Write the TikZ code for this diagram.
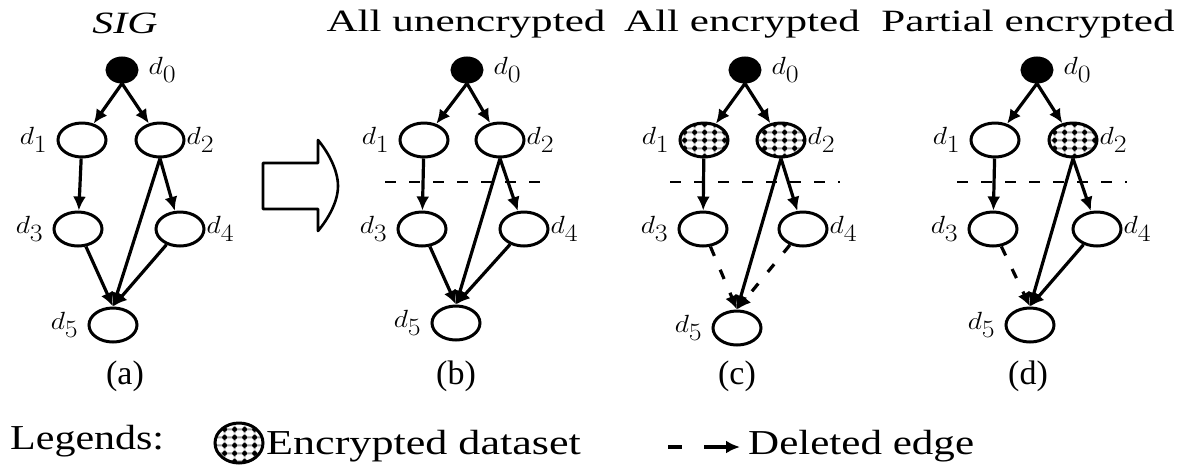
\documentclass[tikz,border=0pt]{standalone}
\usepackage{fontspec}
\setmainfont{Liberation Serif}
\usepackage{graphicx}
\usetikzlibrary{shapes,arrows.meta,patterns.meta}

\newcommand{\sx}[2][1.12]{\scalebox{#1}[1]{#2}}

\tikzdeclarepattern{
  name=encmesh,
  type=colored,
  bottom left={(0pt,0pt)},
  top right={(10pt,8pt)},
  tile size={(10pt,8pt)},
  code={
    \fill[gray!75] (0pt,2.8pt) rectangle (10pt,5.2pt);
    \fill[gray!75] (3.8pt,0pt) rectangle (6.2pt,8pt);
    \fill[black] (5pt,4pt) circle (2.7pt);
  }
}

\tikzset{
  data/.style={shape=ellipse,draw,line width=3pt,fill=white,minimum width=48pt,minimum height=34pt,inner sep=0pt,label distance=4pt},
  root/.style={data,fill=black,minimum width=30pt,minimum height=24pt},
  enc/.style={data,pattern=encmesh},
  dlbl/.style={font=\fontsize{34}{36}\selectfont,inner sep=1pt},
  ldl/.style={dlbl,xshift=-8pt},
  rdl/.style={dlbl},
  edge/.style={line width=3.2pt,-{Latex[length=14pt,width=13pt]}},
  deleted/.style={edge,dash pattern=on 10pt off 15pt},
  cut/.style={line width=2.6pt,dash pattern=on 11pt off 13pt},
  title/.style={font=\fontsize{31}{34}\selectfont,anchor=base,inner sep=0pt},
  subcap/.style={font=\fontsize{34}{36}\selectfont,anchor=base,inner sep=0pt},
  legtxt/.style={font=\fontsize{35}{38}\selectfont,anchor=base west,inner sep=0pt}
}

\begin{document}
\begin{tikzpicture}[x=1pt,y=-1pt]
  \useasboundingbox (0,0) rectangle (1183,464);

  % (a) the SIG
  \begin{scope}[shift={(122,70)},name prefix=a-]
    \node[title] (tit) at (3,-37) {\sx[1.35]{\itshape SIG}};
    \node[root,label={[rdl,xshift=9pt]right:\sx{$d_0$}}] (d0) at (0,0) {};
    \node[data,label={[ldl]left:\sx{$d_1$}}] (d1) at (-40,70) {};
    \node[data,label={[rdl]right:\sx{$d_2$}}] (d2) at (38,70) {};
    \node[data,label={[ldl]left:\sx{$d_3$}}] (d3) at (-44,159) {};
    \node[data,label={[rdl]right:\sx{$d_4$}}] (d4) at (58,159) {};
    \node[data,label={[ldl]left:\sx{$d_5$}}] (d5) at (-9,255) {};
    \draw[edge] (d0.south) -- (d1);
    \draw[edge] (d0.south) -- (d2);
    \draw[edge] (d1) -- (d3);
    \draw[edge] (d2.south) -- (d4);
    \draw[edge] (d2.south) -- (d5.north);
    \draw[edge] (d3) -- (d5.north);
    \draw[edge] (d4) -- (d5.north);
    \node[subcap] (cap) at (3,314) {(a)};
  \end{scope}

  % big arrow
  \draw[line width=2.6pt,line join=round] (263,163) -- (318,163) -- (318,140)
    .. controls (328,152) and (338,170) .. (338,186)
    .. controls (338,202) and (328,219) .. (318,231)
    -- (318,209) -- (263,209) -- cycle;

  % (b) all unencrypted
  \begin{scope}[shift={(467,70)},name prefix=b-]
    \node[title] (tit) at (-1,-39) {\sx[1.39]{All unencrypted}};
    \node[root,label={[rdl,xshift=9pt]right:\sx{$d_0$}}] (d0) at (0,0) {};
    \node[data,label={[ldl]left:\sx{$d_1$}}] (d1) at (-43,70) {};
    \node[data,label={[rdl]right:\sx{$d_2$}}] (d2) at (33,70) {};
    \node[data,label={[ldl]left:\sx{$d_3$}}] (d3) at (-45,159) {};
    \node[data,label={[rdl]right:\sx{$d_4$}}] (d4) at (57,159) {};
    \node[data,label={[ldl]left:\sx{$d_5$}}] (d5) at (-11,253) {};
    \coordinate (cutL) at (-82,112);
    \coordinate (cutR) at (86,112);
    \draw[cut] (cutL) -- (cutR);
    \draw[edge] (d0.south) -- (d1);
    \draw[edge] (d0.south) -- (d2);
    \draw[edge] (d1) -- (d3);
    \draw[edge] (d2.south) -- (d4);
    \draw[edge] (d2.south) -- (d5.north);
    \draw[edge] (d3) -- (d5.north);
    \draw[edge] (d4) -- (d5.north);
    \node[subcap] (cap) at (-11,314) {(b)};
  \end{scope}

  % (c) all encrypted
  \begin{scope}[shift={(745,70)},name prefix=c-]
    \node[title] (tit) at (-3,-39) {\sx[1.39]{All encrypted}};
    \node[root,label={[rdl,xshift=9pt]right:\sx{$d_0$}}] (d0) at (0,0) {};
    \node[enc,label={[ldl]left:\sx{$d_1$}}] (d1) at (-41,70) {};
    \node[enc,label={[rdl]right:\sx{$d_2$}}] (d2) at (36,70) {};
    \node[data,label={[ldl]left:\sx{$d_3$}}] (d3) at (-42,159) {};
    \node[data,label={[rdl]right:\sx{$d_4$}}] (d4) at (58,159) {};
    \node[data,label={[ldl]left:\sx{$d_5$}}] (d5) at (-8,258) {};
    \coordinate (cutL) at (-75,112);
    \coordinate (cutR) at (95,112);
    \draw[cut] (cutL) -- (cutR);
    \draw[edge] (d0.south) -- (d1);
    \draw[edge] (d0.south) -- (d2);
    \draw[edge] (d1) -- (d3);
    \draw[edge] (d2.south) -- (d4);
    \draw[edge] (d2.south) -- (d5.north);
    \draw[deleted] (d3) -- (d5.north);
    \draw[deleted] (d4) -- (d5.north);
    \node[subcap] (cap) at (-8,314) {(c)};
  \end{scope}

  % (d) partial encrypted
  \begin{scope}[shift={(1037,70)},name prefix=d-]
    \node[title] (tit) at (-9,-39) {\sx[1.39]{Partial encrypted}};
    \node[root,label={[rdl,xshift=9pt]right:\sx{$d_0$}}] (d0) at (0,0) {};
    \node[data,label={[ldl]left:\sx{$d_1$}}] (d1) at (-42,70) {};
    \node[enc,label={[rdl]right:\sx{$d_2$}}] (d2) at (36,70) {};
    \node[data,label={[ldl]left:\sx{$d_3$}}] (d3) at (-44,159) {};
    \node[data,label={[rdl]right:\sx{$d_4$}}] (d4) at (60,159) {};
    \node[data,label={[ldl]left:\sx{$d_5$}}] (d5) at (-7,255) {};
    \coordinate (cutL) at (-80,112);
    \coordinate (cutR) at (90,112);
    \draw[cut] (cutL) -- (cutR);
    \draw[edge] (d0.south) -- (d1);
    \draw[edge] (d0.south) -- (d2);
    \draw[edge] (d1) -- (d3);
    \draw[edge] (d2.south) -- (d4);
    \draw[edge] (d2.south) -- (d5.north);
    \draw[deleted] (d3) -- (d5.north);
    \draw[edge] (d4) -- (d5.north);
    \node[subcap] (cap) at (-9,314) {(d)};
  \end{scope}

  % legend
  \node[legtxt] (legTitle) at (10,449) {\sx[1.2]{Legends:}};
  \node[enc,minimum width=48pt,minimum height=40pt] (legEnc) at (239,443) {};
  \node[legtxt] (legEncTxt) at (266,454) {\sx[1.26]{Encrypted dataset}};
  \coordinate (legDelA) at (668,447);
  \coordinate (legDelB) at (740,447);
  \draw[edge,dash pattern=on 14pt off 22pt on 60pt off 1pt] (legDelA) -- (legDelB);
  \node[legtxt] (legDelTxt) at (748,454) {\sx[1.23]{Deleted edge}};
\end{tikzpicture}
\end{document}
